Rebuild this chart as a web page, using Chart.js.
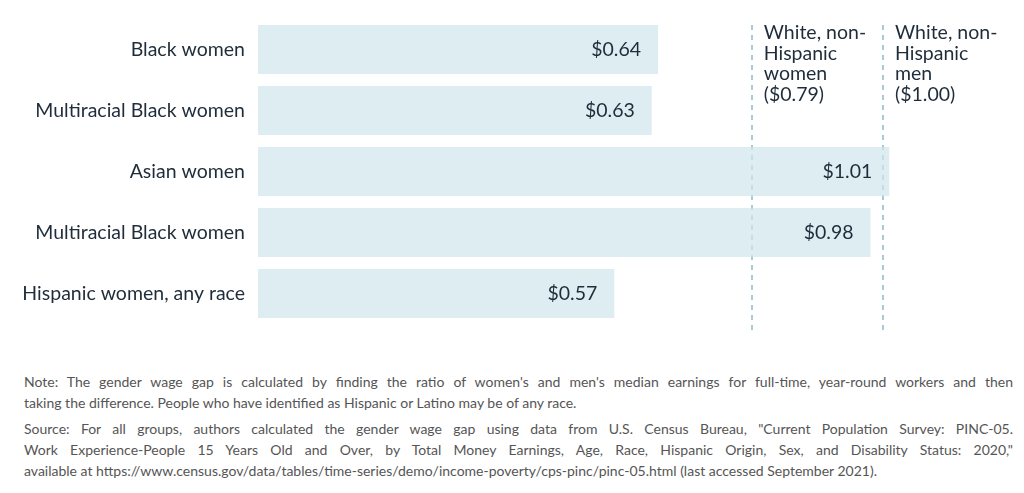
<!DOCTYPE html>
<html>
<head>
<meta charset="utf-8">
<script src="https://cdn.jsdelivr.net/npm/chart.js@4"></script>
<style>
  html, body { margin: 0; padding: 0; background: #fff; }
  body { width: 1024px; height: 493px; overflow: hidden; font-family: Lato, sans-serif; }
  #wrap { position: relative; width: 1024px; height: 345px; }
  .notes { position: absolute; left: 24px; width: 989px; top: 371px; color: #555; font-size: 14px; line-height: 21px; }
  .notes .j { text-align: justify; text-align-last: justify; }
  .notes .gap { height: 5px; }
</style>
</head>
<body>
<div id="wrap"><canvas id="chart" width="1024" height="345"></canvas></div>
<div class="notes">
  <div class="j">Note: The gender wage gap is calculated by finding the ratio of women's and men's median earnings for full-time, year-round workers and then</div>
  <div>taking the difference. People who have identified as Hispanic or Latino may be of any race.</div>
  <div class="gap"></div>
  <div class="j">Source: For all groups, authors calculated the gender wage gap using data from U.S. Census Bureau, "Current Population Survey: PINC-05.</div>
  <div class="j">Work Experience-People 15 Years Old and Over, by Total Money Earnings, Age, Race, Hispanic Origin, Sex, and Disability Status: 2020,"</div>
  <div>available at https://www.census.gov/data/tables/time-series/demo/income-poverty/cps-pinc/pinc-05.html (last accessed September 2021).</div>
</div>
<script>
// 数据
const groups = ['Black women', 'Multiracial Black women', 'Asian women', 'Multiracial Black women', 'Hispanic women, any race'];
const earnings = [0.64, 0.63, 1.01, 0.98, 0.57];
const refValues = [0.79, 1.00];
const refLabels = [['White, non-', 'Hispanic', 'women', '($0.79)'], ['White, non-', 'Hispanic', 'men', '($1.00)']];

const textColor = '#1f2d3a';
const fontFamily = 'Lato, sans-serif';
const fontSize = 19.5;

// 数值标签 + 参考虚线
const overlay = {
    id: 'overlay',
    beforeDatasetsDraw(chart) {
        const ctx = chart.ctx;
        const x = chart.scales.x;
        ctx.save();
        ctx.strokeStyle = '#a9cbd3';
        ctx.lineWidth = 2;
        ctx.setLineDash([5, 5]);
        refValues.forEach(v => {
            const px = Math.round(x.getPixelForValue(v));
            ctx.beginPath();
            ctx.moveTo(px, 25);
            ctx.lineTo(px, 330);
            ctx.stroke();
        });
        ctx.restore();
    },
    afterDatasetsDraw(chart) {
        const ctx = chart.ctx;
        const x = chart.scales.x;
        const meta = chart.getDatasetMeta(0);
        ctx.save();
        ctx.fillStyle = textColor;
        ctx.font = fontSize + 'px ' + fontFamily;
        ctx.textBaseline = 'middle';
        ctx.textAlign = 'right';
        meta.data.forEach((bar, i) => {
            ctx.fillText('$' + earnings[i].toFixed(2), bar.x - 17, bar.y);
        });
        ctx.textAlign = 'left';
        ctx.textBaseline = 'top';
        refValues.forEach((v, i) => {
            const px = x.getPixelForValue(v) + 12;
            refLabels[i].forEach((line, j) => {
                ctx.fillText(line, px, 23 + j * 20.5);
            });
        });
        ctx.restore();
    }
};

new Chart(document.getElementById('chart'), {
    type: 'bar',
    data: {
        labels: groups,
        datasets: [{
            data: earnings,
            backgroundColor: 'rgba(206, 229, 236, 0.7)',
            borderWidth: 0,
            barPercentage: 0.8,
            categoryPercentage: 1
        }]
    },
    options: {
        indexAxis: 'y',
        responsive: false,
        animation: false,
        layout: { padding: { top: 19, bottom: 21, left: 0, right: 16 } },
        plugins: { legend: { display: false }, tooltip: { enabled: false } },
        scales: {
            x: { min: 0, max: 1.2, display: false },
            y: {
                grid: { display: false },
                border: { display: false },
                ticks: { color: textColor, font: { size: fontSize, family: fontFamily }, padding: 5 },
                afterFit(scale) { scale.width = 258; }
            }
        }
    },
    plugins: [overlay]
});
</script>
</body>
</html>
